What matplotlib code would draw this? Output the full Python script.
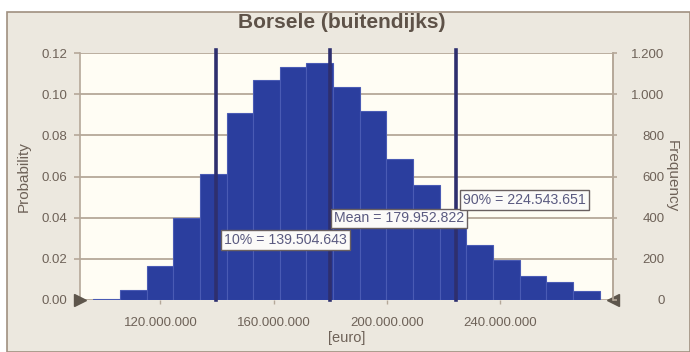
import matplotlib
matplotlib.use("Agg")
import matplotlib.pyplot as plt
from matplotlib.patches import Rectangle
from matplotlib.ticker import FixedLocator

plt.rcParams['font.family'] = ['Liberation Sans', 'DejaVu Sans']

# ---- data (euro, in millions for the bin edges) ----
bin_start = 96.3          # first bin left edge, million euro
bin_width = 9.42          # million euro
probabilities = [0.0006, 0.005, 0.0165, 0.040, 0.061, 0.091, 0.107, 0.113, 0.115,
                 0.1034, 0.0917, 0.0685, 0.056, 0.041, 0.0267, 0.0194, 0.0116,
                 0.0088, 0.0044]
pct10 = 139.504643
mean_val = 179.952822
pct90 = 224.543651
marker_labels = ["10% = 139.504.643", "Mean = 179.952.822", "90% = 224.543.651"]
x_ticks = [120, 160, 200, 240]
x_ticklabels = ["120.000.000", "160.000.000", "200.000.000", "240.000.000"]
y_ticks = [0.00, 0.02, 0.04, 0.06, 0.08, 0.10, 0.12]
y_ticklabels = ["0.00", "0.02", "0.04", "0.06", "0.08", "0.10", "0.12"]
f_ticks = [0, 200, 400, 600, 800, 1000, 1200]
f_ticklabels = ["0", "200", "400", "600", "800", "1.000", "1.200"]

bg = '#ECE8DF'
plot_bg = '#FFFDF4'
txt = '#6E6258'
bar_col = '#2B3E9E'
line_col = '#2E2F6E'
grid_col = '#B5A899'

fig = plt.figure(figsize=(6.9, 3.52), dpi=100)
fig.patch.set_facecolor('white')
# outer panel (drawn behind the axes)
panel = Rectangle((7/690, 0), 1 - 7/690, 1 - 12/352, transform=fig.transFigure,
                  facecolor=bg, edgecolor='#A09080', linewidth=1.2, zorder=-10)
fig.patches.append(panel)

ax = fig.add_axes([80/690, 1 - 300/352, (613 - 80)/690, (300 - 53)/352])
ax.set_facecolor(plot_bg)
ax.set_zorder(1)

lefts = [bin_start + i * bin_width for i in range(len(probabilities))]
ax.bar(lefts, probabilities, width=bin_width, align='edge', color=bar_col,
       edgecolor='#4A5BB4', linewidth=0.8, zorder=3)

ax.set_xlim(91.6, 280.0)
ax.set_ylim(0, 0.12)
ax.yaxis.set_major_locator(FixedLocator(y_ticks))
ax.set_yticklabels(y_ticklabels)
ax.xaxis.set_major_locator(FixedLocator(x_ticks))
ax.set_xticklabels(x_ticklabels)
ax.grid(axis='y', color=grid_col, linewidth=1.3, zorder=1)
ax.tick_params(axis='y', colors=grid_col, labelcolor=txt, labelsize=9.5, length=4, width=1.2, pad=5)
ax.tick_params(axis='x', colors=grid_col, labelcolor=txt, labelsize=9.5, length=3, width=1.0, pad=9)
for s in ['top', 'bottom']:
    ax.spines[s].set_visible(False)
for s in ['left', 'right']:
    ax.spines[s].set_color(grid_col)
    ax.spines[s].set_linewidth(1.2)

ax.set_ylabel("Probability", color=txt, fontsize=11, labelpad=8)
ax.set_xlabel("[euro]", color=txt, fontsize=10.5, labelpad=2)

# vertical marker lines
for v in [pct10, mean_val, pct90]:
    ax.axvline(v, ymax=1.012, color=line_col, linewidth=2.6, zorder=5, clip_on=False)

# labels
box = dict(boxstyle='square,pad=0.2', facecolor='#FBFAF8', edgecolor='#6A6060', linewidth=1.0)
ax.text(pct10 + 3.0, 0.0290, marker_labels[0], fontsize=10.2, color='#5A5A80',
        va='center', ha='left', bbox=box, zorder=6)
ax.text(mean_val + 1.4, 0.0396, marker_labels[1], fontsize=10.2, color='#5A5A80',
        va='center', ha='left', bbox=box, zorder=6)
ax.text(pct90 + 2.4, 0.0485, marker_labels[2], fontsize=10.2, color='#5A5A80',
        va='center', ha='left', bbox=box, zorder=6)

# sliders
ax.plot([0.0], [0.0], marker='>', markersize=9, color='#5E564C', transform=ax.transAxes,
        clip_on=False, zorder=7)
ax.plot([1.0], [0.0], marker='<', markersize=9, color='#5E564C', transform=ax.transAxes,
        clip_on=False, zorder=7)

# frequency axis
ax2 = ax.twinx()
ax2.set_ylim(0, 1200)
ax2.yaxis.set_major_locator(FixedLocator(f_ticks))
ax2.set_yticklabels(f_ticklabels, ha='right')
ax2.tick_params(axis='y', colors=grid_col, labelcolor=txt, labelsize=9.5, length=3, width=1.2, pad=34)
for s in ['top', 'bottom', 'left']:
    ax2.spines[s].set_visible(False)
ax2.spines['right'].set_color(grid_col)
ax2.spines['right'].set_linewidth(1.2)
ax2.set_ylabel("Frequency", color=txt, fontsize=11, rotation=-90, labelpad=10)

fig.text(342/690, 1 - 22/352, "Borsele (buitendijks)", ha='center', va='center',
         fontsize=15, fontweight='bold', color='#5E5248')

fig.savefig("out.png", dpi=100, facecolor=fig.get_facecolor())
